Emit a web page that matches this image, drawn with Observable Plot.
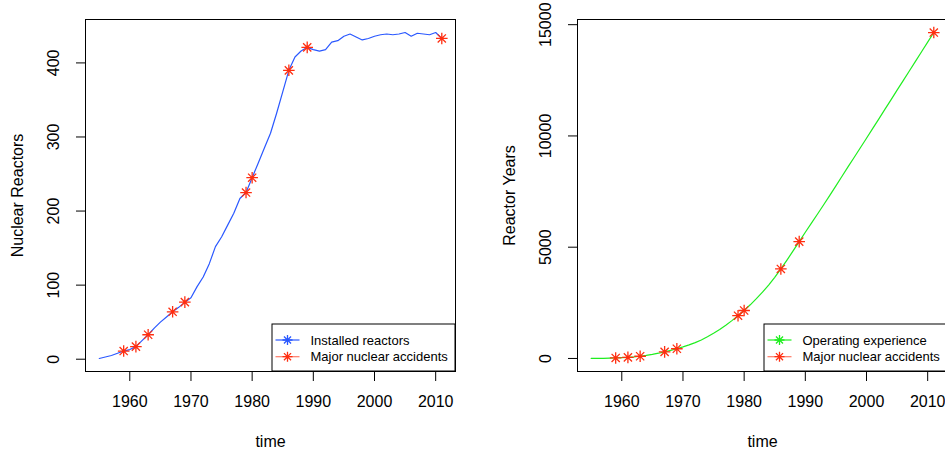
<!DOCTYPE html>
<html>
<head>
<meta charset="utf-8">
<script src="https://cdn.jsdelivr.net/npm/d3@7"></script>
<script src="https://cdn.jsdelivr.net/npm/@observablehq/plot@0.6"></script>
<style>
  html, body { margin: 0; padding: 0; background: #fff; }
  #wrap { position: relative; width: 945px; height: 454px; overflow: hidden; background: #fff; }
  .panel { position: absolute; top: 0; }
</style>
</head>
<body>
<div id="wrap"></div>
<script>
// ---- data ----
const years = [1955,1956,1957,1958,1959,1960,1961,1962,1963,1964,1965,1966,1967,1968,1969,
  1970,1971,1972,1973,1974,1975,1976,1977,1978,1979,1980,1981,1982,1983,1984,1985,1986,1987,1988,1989,
  1990,1991,1992,1993,1994,1995,1996,1997,1998,1999,2000,2001,2002,2003,2004,2005,2006,2007,2008,2009,2010,2011];
const installedReactors = [1,3,5,8,11,13,17,25,33,42,50,57,64,70,77,
  83,98,111,129,152,165,181,197,217,225,245,265,285,305,332,361,390,408,416,421,
  418,416,418,428,430,436,439,435,431,433,436,438,439,438,439,441,436,440,439,438,441,433];
const reactorYears = [0,2,6,13,22,34,50,70,100,137,183,236,297,364,437,
  518,608,712,832,973,1131,1304,1493,1700,1921,2156,2411,2686,2981,3300,3646,4022,4421,4833,5251,
  5671,6081,6492,6908,7330,7757,8187,8618,9044,9469,9897,10327,10759,11191,11623,12056,12488,12919,13352,13784,14217,14647];
const accidentYears = [1959,1961,1963,1967,1969,1979,1980,1986,1989,2011];
const xTicks = [1960,1970,1980,1990,2000,2010];
const leftYTicks = [0,100,200,300,400];
const rightYTicks = [0,5000,10000,15000];
const legendLeft = ["Installed reactors","Major nuclear accidents"];
const legendRight = ["Operating experience","Major nuclear accidents"];

const BLUE = "#2a58ff", GREEN = "#1fee1f", RED = "#ff2e10", RED_LINE = "#ff7a66";
const FONT = "'Liberation Sans', Arial, Helvetica, sans-serif";

// R-like asterisk (pch = 8)
const star = {
  draw(context, size) {
    const r = Math.sqrt(size / Math.PI);
    const d = r * Math.SQRT1_2;
    context.moveTo(-r, 0); context.lineTo(r, 0);
    context.moveTo(0, -r); context.lineTo(0, r);
    context.moveTo(-d, -d); context.lineTo(d, d);
    context.moveTo(-d, d); context.lineTo(d, -d);
  }
};

function rPad(vals) {
  const [a, b] = d3.extent(vals);
  const p = (b - a) * 0.04;
  return [a - p, b + p];
}

const W = 472, H = 454, ML = 85, MR = 17, MT = 19, MB = 83;

function panel(values, yTicks, yLabel, lineColor, legendTexts) {
  const series = years.map((y, i) => ({year: y, value: values[i]}));
  const acc = accidentYears.map(y => ({year: y, value: values[years.indexOf(y)]}));
  const svg = Plot.plot({
    width: W, height: H,
    marginLeft: ML, marginRight: MR, marginTop: MT, marginBottom: MB,
    style: {fontFamily: FONT, fontSize: "16px", background: "#fff", color: "#000", overflow: "visible"},
    x: {domain: rPad(years)},
    y: {domain: rPad(values)},
    marks: [
      Plot.frame({stroke: "#000", strokeWidth: 1}),
      Plot.axisX({ticks: xTicks, tickSize: 10, tickPadding: 14, tickFormat: d => String(d), label: null, fontSize: 16}),
      Plot.axisY({ticks: yTicks, tickSize: 9, tickFormat: () => "", label: null}),
      Plot.text(yTicks, {y: d => d, text: d => String(d), frameAnchor: "left", dx: -32, rotate: -90,
        textAnchor: "middle", lineAnchor: "middle", fontSize: 16}),
      Plot.text([yLabel], {text: d => d, frameAnchor: "left", dx: -67.5, rotate: -90,
        textAnchor: "middle", lineAnchor: "middle", fontSize: 16}),
      Plot.text(["time"], {text: d => d, frameAnchor: "bottom", dy: 70, lineAnchor: "middle", fontSize: 16}),
      Plot.line(series, {x: "year", y: "value", stroke: lineColor, strokeWidth: 1.2, clip: true}),
      Plot.dot(acc, {x: "year", y: "value", symbol: star, r: 5.8, stroke: RED, fill: "none", strokeWidth: 1.3})
    ]
  });

  // legend (R-style, bottom-right inside plot box)
  const fr = W - MR, fb = H - MB;
  const lw = 183, lh = 47;
  const x0 = fr - lw, y0 = fb - lh;
  const g = d3.select(svg).append("g").attr("font-family", FONT).attr("font-size", 13)
    .attr("text-anchor", "start");
  g.append("rect").attr("x", x0).attr("y", y0).attr("width", lw).attr("height", lh)
    .attr("fill", "#fff").attr("stroke", "#000").attr("stroke-width", 1);
  const rows = [
    {text: legendTexts[0], line: lineColor, pt: lineColor},
    {text: legendTexts[1], line: RED_LINE, pt: RED}
  ];
  const starPath = d3.symbol(star, Math.PI * 5 * 5)();
  rows.forEach((row, i) => {
    const cy = y0 + 16 + i * 16.7;
    g.append("line").attr("x1", x0 + 3.5).attr("x2", x0 + 27.5).attr("y1", cy).attr("y2", cy)
      .attr("stroke", row.line).attr("stroke-width", 1.2);
    g.append("path").attr("d", starPath).attr("transform", `translate(${x0 + 15.5},${cy})`)
      .attr("stroke", row.pt).attr("fill", "none").attr("stroke-width", 1.3);
    g.append("text").attr("x", x0 + 38.5).attr("y", cy).attr("dy", "0.35em").attr("fill", "#000")
      .attr("text-anchor", "start").text(row.text);
  });
  return svg;
}

const wrap = document.getElementById("wrap");
const left = panel(installedReactors, leftYTicks, "Nuclear Reactors", BLUE, legendLeft);
left.classList.add("panel"); left.style.left = "0px";
wrap.appendChild(left);
const right = panel(reactorYears, rightYTicks, "Reactor Years", GREEN, legendRight);
right.classList.add("panel"); right.style.left = "492px";
wrap.appendChild(right);
</script>
</body>
</html>
